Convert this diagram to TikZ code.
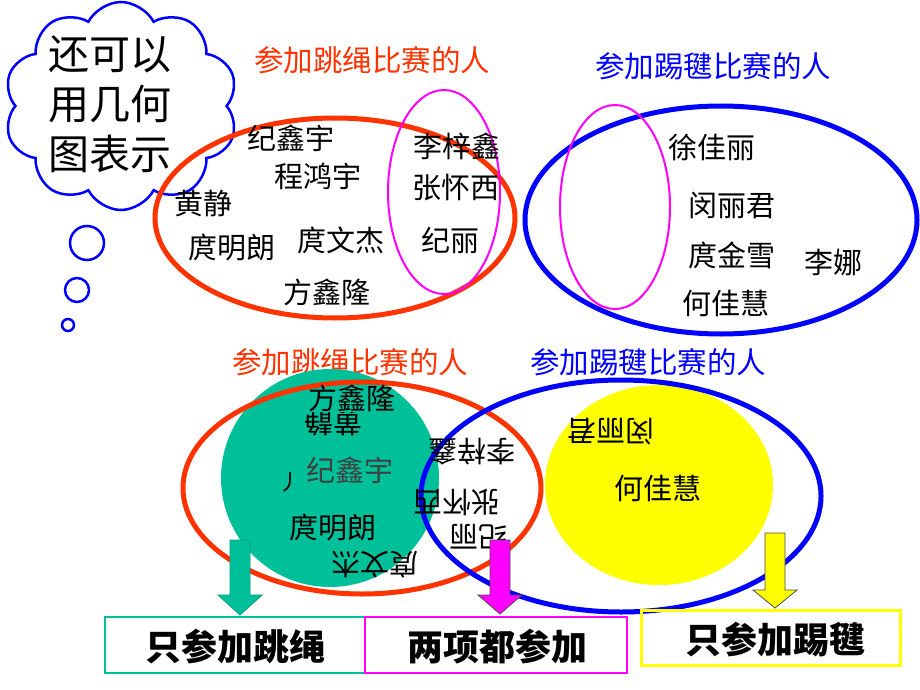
\documentclass[tikz,border=0pt]{standalone}
\usepackage{fontspec}
\setmainfont{Noto Sans CJK SC}
\usetikzlibrary{shapes.symbols}
\definecolor{jred}{RGB}{255,51,0}
\definecolor{jblue}{RGB}{0,0,255}
\definecolor{jmag}{RGB}{255,0,255}
\definecolor{jteal}{RGB}{0,192,153}
\definecolor{jyel}{RGB}{255,255,0}
\begin{document}
\begin{tikzpicture}[x=1pt,y=-1pt,
  nm/.style={font=\fontsize{29}{32}\selectfont, inner sep=0pt},
  lbl/.style={font=\fontsize{29.5}{32}\selectfont, inner sep=0pt},
  flip/.style={nm, rotate=180},
  thickline/.style={line width=5pt},
  thinline/.style={line width=2pt},
  boxlbl/.style={font=\fontsize{36}{40}\selectfont\bfseries, inner sep=0pt},
  blockarrow/.style={line width=0.8pt, line join=miter}]
\useasboundingbox (0,0) rectangle (920,690);
% ---------- thought cloud ----------
\node[cloud, cloud puffs=10, cloud puff arc=125, aspect=1.1, draw=jblue, line width=2.5pt,
  minimum width=234pt, minimum height=208pt, inner sep=0pt] (cloud) at (121,106) {};
\node[font=\fontsize{41}{50}\selectfont, align=center, inner sep=0pt] (cloudtxt) at (110,104) {还可以\\用几何\\图表示};
\draw[jblue, line width=2.5pt] (87,243) circle[radius=17pt] node (b1) {};
\draw[jblue, line width=2.5pt] (77,290) circle[radius=12pt] node (b2) {};
\draw[jblue, line width=2.5pt] (68,325) circle[radius=6pt] node (b3) {};
% ---------- top left ----------
\node[lbl, text=jred] (lblR1) at (372,60) {参加跳绳比赛的人};
\draw[jred, thickline] (335,218) ellipse[x radius=180pt, y radius=100pt];
\draw[jmag, thinline] (444,192) ellipse[x radius=56pt, y radius=102pt];
\node[nm] (t1) at (291,138) {纪鑫宇};
\node[nm] (t2) at (318,176) {程鸿宇};
\node[nm] (t3) at (203,204) {黄静};
\node[nm] (t4) at (232,247) {庹明朗};
\node[nm] (t5) at (341,240) {庹文杰};
\node[nm] (t6) at (327,292) {方鑫隆};
\node[nm] (t7) at (457,146) {李梓鑫};
\node[nm] (t8) at (456,188) {张怀西};
\node[nm] (t9) at (450,240) {纪丽};
% ---------- top right ----------
\node[lbl, text=jblue] (lblB1) at (713,66) {参加踢毽比赛的人};
\draw[jblue, thickline] (721,220) ellipse[x radius=196pt, y radius=114pt];
\draw[jmag, thinline] (615,207) ellipse[x radius=55pt, y radius=102pt];
\node[nm] (u1) at (712,147) {徐佳丽};
\node[nm] (u2) at (732,205) {闵丽君};
\node[nm] (u3) at (732,255) {庹金雪};
\node[nm] (u4) at (833,262) {李娜};
\node[nm] (u5) at (726,303) {何佳慧};
% ---------- bottom ----------
\node[lbl, text=jred] (lblR2) at (350,362) {参加跳绳比赛的人};
\node[lbl, text=jblue] (lblB2) at (648,362) {参加踢毽比赛的人};
\fill[jteal] (330,478) circle[radius=109pt];
\fill[jyel] (659,485) ellipse[x radius=114pt, y radius=100pt];
\draw[jred, thickline] (362,488) ellipse[x radius=179pt, y radius=106pt];
\draw[jblue, thickline] (621,496) ellipse[x radius=200pt, y radius=116pt];
\begin{scope}
  \clip (280,412) rectangle (400,440);
  \node[flip] (v0) at (333,422) {黄静};
\end{scope}
\node[nm] (v1) at (352,398) {方鑫隆};
\node[nm, text=black!75] (v2) at (350,470) {纪鑫宇};
\node[font=\fontsize{22}{24}\selectfont, inner sep=0pt] (v3) at (289,482) {丿};
\node[nm] (v4) at (333,527) {庹明朗};
\node[flip] (v5) at (375,565) {庹文杰};
\node[flip] (v6) at (472,452) {李梓鑫};
\node[flip] (v7) at (457,502) {张怀西};
\node[flip] (v8) at (478,537) {纪丽};
\node[flip] (v9) at (611,432) {闵丽君};
\node[nm] (v10) at (658,488) {何佳慧};
% ---------- block arrows ----------
\filldraw[jteal, blockarrow, draw=jteal!80!black]
  (230,540) -- (250,540) -- (250,595) -- (262,595) -- (240,615) -- (218,595) -- (230,595) -- cycle;
\filldraw[fill=jmag, draw=black!70, blockarrow]
  (490,540) -- (510,540) -- (510,595) -- (522,595) -- (500,614) -- (478,595) -- (490,595) -- cycle;
\filldraw[fill=jyel, draw=black!70, blockarrow]
  (765,533) -- (785,533) -- (785,590) -- (797,590) -- (775,608) -- (753,590) -- (765,590) -- cycle;
% ---------- boxes ----------
\draw[jteal, line width=2.5pt] (105,617) rectangle (365,673);
\draw[jmag, line width=2.5pt] (365,617) rectangle (627,673);
\draw[jyel, line width=3pt] (641,610) rectangle (900,665);
\node[boxlbl] (k1) at (235,647) {只参加跳绳};
\node[boxlbl] (k2) at (497,647) {两项都参加};
\node[boxlbl] (k3) at (775,640) {只参加踢毽};
\end{tikzpicture}
\end{document}
